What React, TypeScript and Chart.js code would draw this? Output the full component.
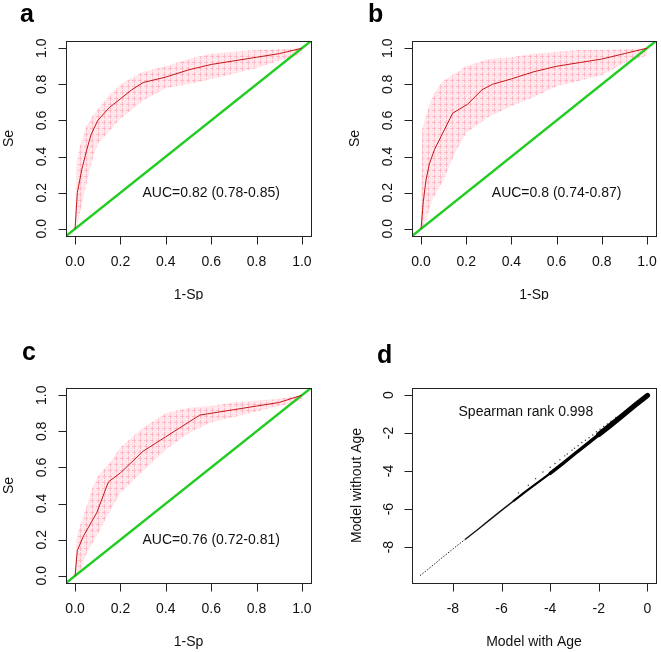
import React, { useEffect, useRef } from 'react';
import { Chart, registerables } from 'chart.js';

Chart.register(...registerables);

// ---------- data ----------
const rocTicks = [0, 0.2, 0.4, 0.6, 0.8, 1.0];
const rocTickLabels = ['0.0', '0.2', '0.4', '0.6', '0.8', '1.0'];
const dTicks = [-8, -6, -4, -2, 0];
const dTickLabels = ['-8', '-6', '-4', '-2', '0'];

const diagX = [-0.04, 1.04];
const diagY = [-0.04, 1.04];

const bandX = [0, 0.005, 0.02, 0.05, 0.08, 0.1, 0.15, 0.2, 0.3, 0.4, 0.5, 0.6, 0.7, 0.8, 0.9, 1.0];

// panel a
const aFpr = [0, 0.01, 0.03, 0.05, 0.07, 0.1, 0.15, 0.2, 0.25, 0.3, 0.4, 0.5, 0.6, 0.7, 0.8, 0.9, 1.0];
const aSe = [0, 0.2, 0.33, 0.43, 0.52, 0.6, 0.67, 0.72, 0.77, 0.81, 0.84, 0.88, 0.91, 0.93, 0.95, 0.97, 1.0];
const aUpper = [0, 0.36, 0.45, 0.57, 0.63, 0.66, 0.74, 0.8, 0.87, 0.9, 0.94, 0.97, 0.98, 0.99, 0.995, 1.0];
const aLower = [0, 0, 0.08, 0.25, 0.4, 0.47, 0.54, 0.61, 0.71, 0.78, 0.8, 0.83, 0.86, 0.89, 0.93, 0.97];

// panel b
const bFpr = [0, 0.01, 0.022, 0.037, 0.06, 0.088, 0.14, 0.206, 0.27, 0.316, 0.4, 0.5, 0.6, 0.7, 0.8, 0.9, 1.0];
const bSe = [0, 0.15, 0.27, 0.36, 0.44, 0.51, 0.64, 0.69, 0.77, 0.8, 0.83, 0.87, 0.9, 0.92, 0.94, 0.97, 1.0];
const bUpper = [0, 0.55, 0.62, 0.73, 0.79, 0.82, 0.86, 0.9, 0.94, 0.95, 0.97, 0.98, 0.99, 0.99, 0.995, 1.0];
const bLower = [0, 0, 0.04, 0.16, 0.23, 0.27, 0.42, 0.53, 0.62, 0.68, 0.73, 0.79, 0.82, 0.85, 0.92, 0.96];

// panel c
const cFpr = [0, 0.01, 0.037, 0.096, 0.147, 0.2, 0.3, 0.4, 0.5, 0.55, 0.6, 0.7, 0.8, 0.9, 1.0];
const cSe = [0, 0.14, 0.22, 0.35, 0.52, 0.57, 0.69, 0.77, 0.85, 0.89, 0.9, 0.92, 0.94, 0.96, 1.0];
const cUpper = [0, 0.2, 0.27, 0.38, 0.5, 0.55, 0.62, 0.71, 0.82, 0.9, 0.93, 0.94, 0.96, 0.97, 0.98, 1.0];
const cLower = [0, 0, 0.02, 0.12, 0.19, 0.23, 0.35, 0.46, 0.58, 0.7, 0.79, 0.85, 0.88, 0.91, 0.94, 0.97];

// panel d
const dWith = [-9.35, -9.0, -8.5, -8.0, -7.5, -7.0, -6.5, -6.0, -5.5, -5.0, -4.5, -4.0, -3.5, -3.0, -2.5, -2.0, -1.5, -1.0, -0.5, 0];
const dWithout = [-9.5, -9.15, -8.62, -8.1, -7.6, -7.1, -6.58, -6.07, -5.57, -5.07, -4.6, -4.12, -3.62, -3.1, -2.6, -2.08, -1.57, -1.05, -0.53, -0.02];
const dOutX = [-5.3, -4.9, -4.6, -4.3, -4.0, -3.8, -3.6, -3.4, -3.3, -3.1, -3.0, -2.85, -2.7, -2.55, -2.4, -2.25, -2.1, -1.95, -1.8, -1.65, -1.5, -1.3];
const dOutY = [-5.15, -4.75, -4.4, -4.05, -3.8, -3.6, -3.4, -3.2, -3.1, -2.9, -2.8, -2.67, -2.5, -2.38, -2.25, -2.1, -1.93, -1.8, -1.65, -1.52, -1.38, -1.18];

const rocNotes = ['AUC=0.82 (0.78-0.85)', 'AUC=0.8 (0.74-0.87)', 'AUC=0.76 (0.72-0.81)'];
const dNote = 'Spearman rank 0.998';

// ---------- helpers ----------
const pts = (xs: number[], ys: number[]) => xs.map((x, i) => ({ x, y: ys[i] }));
const FONT = '"Liberation Sans", Arial, Helvetica, sans-serif';

function makePattern(): CanvasPattern | string {
  const c = document.createElement('canvas');
  c.width = 6;
  c.height = 6;
  const g = c.getContext('2d');
  const fallback = 'rgba(255,192,203,0.6)';
  if (!g) return fallback;
  g.fillStyle = 'rgba(255,208,216,0.5)';
  g.fillRect(0, 0, 6, 6);
  g.fillStyle = 'rgba(255,180,194,0.85)';
  g.fillRect(0, 2, 4, 1);
  g.fillRect(2, 0, 1, 5);
  return g.createPattern(c, 'repeat') || fallback;
}

const rAxesPlugin = {
  id: 'rAxes',
  afterDraw(chart: any, _args: any, o: any) {
    const { ctx, chartArea: a, scales } = chart;
    const xs = scales.x;
    const ys = scales.y;
    ctx.save();
    ctx.strokeStyle = '#222';
    ctx.fillStyle = '#111';
    ctx.lineWidth = 1;
    // box
    ctx.strokeRect(Math.round(a.left) + 0.5, Math.round(a.top) + 0.5, Math.round(a.right - a.left), Math.round(a.bottom - a.top));
    // x axis
    const bx = Math.round(a.bottom) + 0.5;
    ctx.beginPath();
    o.xTicks.forEach((v: number) => {
      const px = Math.round(xs.getPixelForValue(v)) + 0.5;
      ctx.moveTo(px, bx);
      ctx.lineTo(px, bx + 8);
    });
    ctx.stroke();
    ctx.font = `14px ${FONT}`;
    ctx.textAlign = 'center';
    ctx.textBaseline = 'middle';
    o.xTicks.forEach((v: number, i: number) => {
      ctx.fillText(o.xLabels[i], xs.getPixelForValue(v), a.bottom + 26);
    });
    ctx.fillText(o.xTitle, (a.left + a.right) / 2, a.bottom + 59);
    // y axis
    const lx = Math.round(a.left) + 0.5;
    ctx.beginPath();
    o.yTicks.forEach((v: number) => {
      const py = Math.round(ys.getPixelForValue(v)) + 0.5;
      ctx.moveTo(lx, py);
      ctx.lineTo(lx - 8, py);
    });
    ctx.stroke();
    o.yTicks.forEach((v: number, i: number) => {
      ctx.save();
      ctx.translate(a.left - o.yLabelOffset, ys.getPixelForValue(v));
      ctx.rotate(-Math.PI / 2);
      ctx.fillText(o.yLabels[i], 0, 0);
      ctx.restore();
    });
    ctx.save();
    ctx.translate(a.left - o.yTitleOffset, (a.top + a.bottom) / 2);
    ctx.rotate(-Math.PI / 2);
    ctx.fillText(o.yTitle, 0, 0);
    ctx.restore();
    // annotation
    ctx.fillText(o.note, xs.getPixelForValue(o.noteX), ys.getPixelForValue(o.noteY));
    // panel letter
    ctx.font = `bold 25px ${FONT}`;
    ctx.textAlign = 'left';
    ctx.textBaseline = 'alphabetic';
    ctx.fillStyle = '#000';
    ctx.fillText(o.letter, o.letterX, o.letterY);
    ctx.restore();
  },
};

type Panel = {
  left: number;
  top: number;
  width: number;
  height: number;
  padding: { left: number; top: number; right: number; bottom: number };
  xMin: number;
  xMax: number;
  yMin: number;
  yMax: number;
  axes: any;
  datasets: () => any[];
};

function rocDatasets(fpr: number[], se: number[], upper: number[], lower: number[]) {
  return () => [
    { data: pts(bandX, lower), order: 4, borderWidth: 0, borderColor: 'rgba(0,0,0,0)', pointRadius: 0, fill: false },
    { data: pts(bandX, upper), order: 3, borderWidth: 0, borderColor: 'rgba(0,0,0,0)', pointRadius: 0, fill: '-1', backgroundColor: makePattern() },
    { data: pts(diagX, diagY), order: 2, borderColor: '#22cc22', borderWidth: 2.5, pointRadius: 0, fill: false },
    { data: pts(fpr, se), order: 1, borderColor: '#c01818', borderWidth: 1, pointRadius: 0, fill: false },
  ];
}

function rocAxes(letter: string, note: string, letterX: number, letterY: number) {
  return {
    letter,
    letterX,
    letterY,
    note,
    noteX: 0.6,
    noteY: 0.2,
    xTicks: rocTicks,
    xLabels: rocTickLabels,
    yTicks: rocTicks,
    yLabels: rocTickLabels,
    xTitle: '1-Sp',
    yTitle: 'Se',
    yLabelOffset: 24,
    yTitleOffset: 57,
  };
}

const panels: Panel[] = [
  {
    left: 0, top: 0, width: 330, height: 300,
    padding: { left: 66, top: 41, right: 19, bottom: 64 },
    xMin: -0.04, xMax: 1.04, yMin: -0.04, yMax: 1.04,
    axes: rocAxes('a', rocNotes[0], 20, 22),
    datasets: rocDatasets(aFpr, aSe, aUpper, aLower),
  },
  {
    left: 330, top: 0, width: 331, height: 300,
    padding: { left: 82, top: 41, right: 5, bottom: 64 },
    xMin: -0.04, xMax: 1.04, yMin: -0.04, yMax: 1.04,
    axes: rocAxes('b', rocNotes[1], 38, 22),
    datasets: rocDatasets(bFpr, bSe, bUpper, bLower),
  },
  {
    left: 0, top: 300, width: 330, height: 352,
    padding: { left: 66, top: 88, right: 19, bottom: 69 },
    xMin: -0.04, xMax: 1.04, yMin: -0.04, yMax: 1.04,
    axes: rocAxes('c', rocNotes[2], 22, 60),
    datasets: rocDatasets(cFpr, cSe, cUpper, cLower),
  },
  {
    left: 330, top: 300, width: 331, height: 352,
    padding: { left: 82, top: 88, right: 5, bottom: 69 },
    xMin: -9.68, xMax: 0.35, yMin: -9.89, yMax: 0.37,
    axes: {
      letter: 'd', letterX: 47, letterY: 63,
      note: dNote, noteX: -5.0, noteY: -0.9,
      xTicks: dTicks, xLabels: dTickLabels,
      yTicks: dTicks, yLabels: dTickLabels,
      xTitle: 'Model with Age', yTitle: 'Model without Age',
      yLabelOffset: 23, yTitleOffset: 55,
    },
    datasets: () => [
      { data: pts(dWith.slice(0, 5), dWithout.slice(0, 5)), borderColor: '#222', borderWidth: 1, borderDash: [1.5, 1.5], pointRadius: 0, fill: false },
      { data: pts(dWith.slice(4, 9), dWithout.slice(4, 9)), borderColor: '#111', borderWidth: 1.4, pointRadius: 0, fill: false },
      { data: pts(dWith.slice(8, 12), dWithout.slice(8, 12)), borderColor: '#000', borderWidth: 2.2, borderCapStyle: 'round', pointRadius: 0, fill: false },
      { data: pts(dWith.slice(11, 16), dWithout.slice(11, 16)), borderColor: '#000', borderWidth: 3.4, borderCapStyle: 'round', pointRadius: 0, fill: false },
      { data: pts(dWith.slice(15), dWithout.slice(15)), borderColor: '#000', borderWidth: 5.2, borderCapStyle: 'round', pointRadius: 0, fill: false },
      { data: pts(dOutX, dOutY), showLine: false, borderColor: '#333', backgroundColor: '#333', pointRadius: 0.7, pointBorderWidth: 0 },
    ],
  },
];

function PanelChart({ p }: { p: Panel }) {
  const ref = useRef<HTMLCanvasElement>(null);
  useEffect(() => {
    if (!ref.current) return;
    const chart = new Chart(ref.current, {
      type: 'line',
      data: { datasets: p.datasets() },
      options: {
        responsive: false,
        animation: false,
        devicePixelRatio: 1,
        layout: { padding: p.padding },
        scales: {
          x: { type: 'linear', min: p.xMin, max: p.xMax, display: false },
          y: { type: 'linear', min: p.yMin, max: p.yMax, display: false },
        },
        plugins: {
          legend: { display: false },
          tooltip: { enabled: false },
          rAxes: p.axes,
        } as any,
      },
      plugins: [rAxesPlugin],
    });
    return () => chart.destroy();
  }, [p]);
  return (
    <canvas
      ref={ref}
      width={p.width}
      height={p.height}
      style={{ position: 'absolute', left: p.left, top: p.top, width: p.width, height: p.height }}
    />
  );
}

export default function App() {
  return (
    <div style={{ position: 'absolute', left: 0, top: 0, width: 661, height: 652, background: '#fff' }}>
      {panels.map((p, i) => (
        <PanelChart key={i} p={p} />
      ))}
    </div>
  );
}
